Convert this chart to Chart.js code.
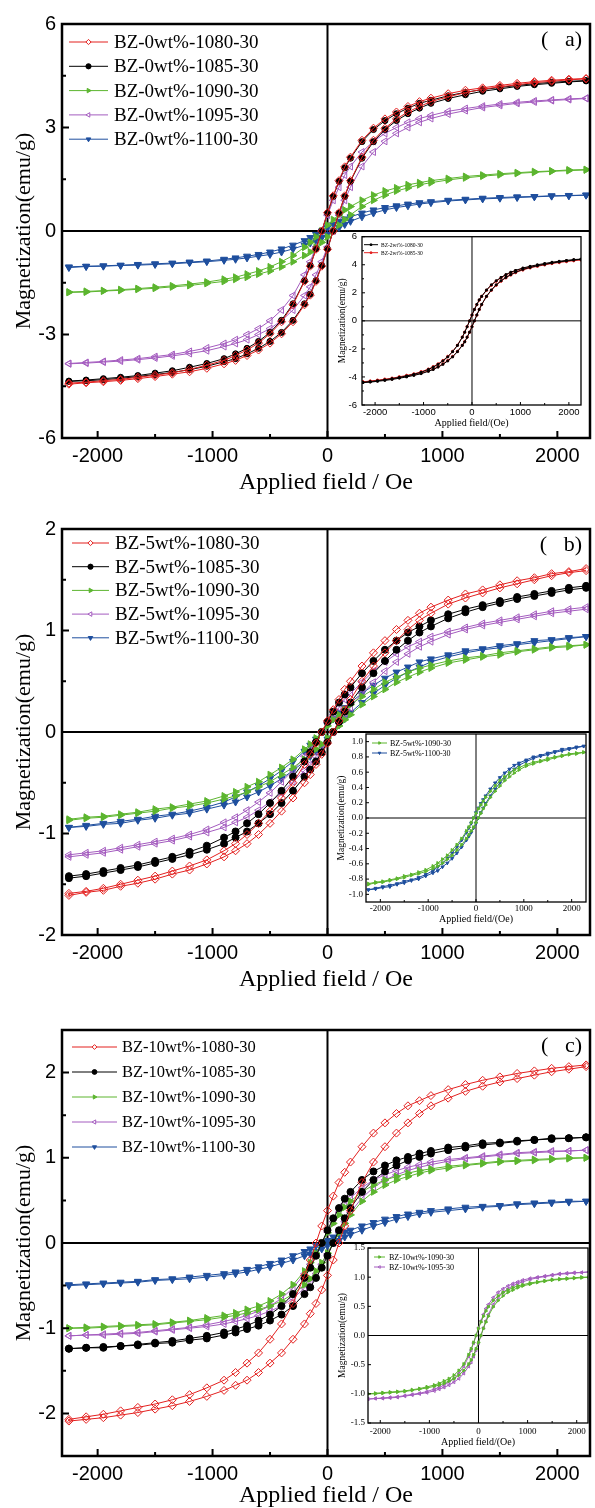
<!DOCTYPE html>
<html>
<head>
<meta charset="utf-8">
<script src="https://cdn.jsdelivr.net/npm/chart.js@4.4.1/dist/chart.umd.min.js"></script>
<style>
html, body { margin: 0; padding: 0; background: #fff; overflow: hidden; }
#fig { position: relative; width: 595px; height: 1508px; overflow: hidden; background: #fff; }
#fig canvas { position: absolute; }
</style>
</head>
<body>
<div id="fig">
  <canvas id="mainA" width="595" height="508" style="left:0;top:0"></canvas>
  <canvas id="mainB" width="595" height="497" style="left:0;top:508px"></canvas>
  <canvas id="mainC" width="595" height="521" style="left:0;top:1005px"></canvas>
  <canvas id="insetA" width="267" height="206" style="left:328px;top:226px"></canvas>
  <canvas id="insetB" width="265" height="202" style="left:330px;top:724px"></canvas>
  <canvas id="insetC" width="263" height="210" style="left:332px;top:1238px"></canvas>
</div>
<script>
// applied field (Oe) where each branch was read, from +H max down to -H max
const fieldOe = [2250, 2100, 1950, 1800, 1650, 1500, 1350, 1200, 1050,
  900, 800, 700, 600, 500, 400, 300, 200,
  150, 100, 50, 0, -50, -100, -150,
  -200, -300, -400, -500, -600, -700, -800, -900,
  -1050, -1200, -1350, -1500, -1650, -1800, -1950, -2100, -2250];

// (a) BZ-0wt%  -- "Down" = branch swept from +H to -H, "Up" = branch swept back
const a1080Down = [4.42, 4.40, 4.37, 4.33, 4.28, 4.22, 4.15, 4.08, 3.98, 3.85, 3.75, 3.61, 3.45, 3.25, 2.98, 2.63, 2.14, 1.86, 1.46, 1.02, 0.53, 0, -0.53, -1.02, -1.46, -2.14, -2.63, -2.98, -3.25, -3.45, -3.61, -3.75, -3.89, -4.01, -4.11, -4.18, -4.24, -4.30, -4.34, -4.38, -4.41];
const a1080Up = [4.41, 4.38, 4.34, 4.30, 4.24, 4.18, 4.11, 4.01, 3.89, 3.75, 3.61, 3.45, 3.25, 2.98, 2.63, 2.14, 1.46, 1.02, 0.53, 0, -0.53, -1.02, -1.46, -1.86, -2.14, -2.63, -2.98, -3.25, -3.45, -3.61, -3.75, -3.85, -3.98, -4.08, -4.15, -4.22, -4.28, -4.33, -4.37, -4.40, -4.44];
const a1085Down = [4.36, 4.34, 4.31, 4.27, 4.22, 4.16, 4.10, 4.02, 3.92, 3.79, 3.70, 3.56, 3.40, 3.20, 2.94, 2.59, 2.11, 1.83, 1.44, 1.00, 0.52, 0, -0.52, -1.00, -1.44, -2.11, -2.59, -2.94, -3.20, -3.40, -3.56, -3.70, -3.84, -3.95, -4.05, -4.12, -4.19, -4.24, -4.28, -4.32, -4.35];
const a1085Up = [4.35, 4.32, 4.28, 4.24, 4.19, 4.12, 4.05, 3.95, 3.84, 3.70, 3.56, 3.40, 3.20, 2.94, 2.59, 2.11, 1.44, 1.00, 0.52, 0, -0.52, -1.00, -1.44, -1.83, -2.11, -2.59, -2.94, -3.20, -3.40, -3.56, -3.70, -3.79, -3.92, -4.02, -4.10, -4.16, -4.22, -4.27, -4.31, -4.34, -4.36];
const a1090Down = [1.78, 1.77, 1.74, 1.72, 1.69, 1.66, 1.62, 1.58, 1.52, 1.46, 1.40, 1.34, 1.25, 1.16, 1.04, 0.89, 0.71, 0.61, 0.47, 0.33, 0.17, 0, -0.17, -0.33, -0.47, -0.71, -0.89, -1.04, -1.16, -1.25, -1.34, -1.40, -1.48, -1.54, -1.59, -1.63, -1.67, -1.70, -1.73, -1.75, -1.77];
const a1090Up = [1.77, 1.75, 1.73, 1.70, 1.67, 1.63, 1.59, 1.54, 1.48, 1.40, 1.34, 1.25, 1.16, 1.04, 0.89, 0.71, 0.47, 0.33, 0.17, 0, -0.17, -0.33, -0.47, -0.61, -0.71, -0.89, -1.04, -1.16, -1.25, -1.34, -1.40, -1.46, -1.52, -1.58, -1.62, -1.66, -1.69, -1.72, -1.74, -1.77, -1.78];
const a1095Down = [3.85, 3.83, 3.80, 3.77, 3.73, 3.68, 3.62, 3.55, 3.47, 3.35, 3.26, 3.15, 3.00, 2.83, 2.60, 2.29, 1.87, 1.62, 1.27, 0.89, 0.46, 0, -0.46, -0.89, -1.27, -1.87, -2.29, -2.60, -2.83, -3.00, -3.15, -3.26, -3.39, -3.49, -3.58, -3.64, -3.70, -3.74, -3.78, -3.81, -3.84];
const a1095Up = [3.84, 3.81, 3.78, 3.74, 3.70, 3.64, 3.58, 3.49, 3.39, 3.26, 3.15, 3.00, 2.83, 2.60, 2.29, 1.87, 1.27, 0.89, 0.46, 0, -0.46, -0.89, -1.27, -1.62, -1.87, -2.29, -2.60, -2.83, -3.00, -3.15, -3.26, -3.35, -3.47, -3.55, -3.62, -3.68, -3.73, -3.77, -3.80, -3.83, -3.85];
const a1100Down = [1.04, 1.03, 1.02, 1.00, 0.99, 0.97, 0.95, 0.92, 0.89, 0.85, 0.82, 0.78, 0.73, 0.68, 0.61, 0.52, 0.41, 0.35, 0.28, 0.19, 0.10, 0, -0.10, -0.19, -0.28, -0.41, -0.52, -0.61, -0.68, -0.73, -0.78, -0.82, -0.87, -0.90, -0.93, -0.95, -0.97, -0.99, -1.01, -1.02, -1.04];
const a1100Up = [1.04, 1.02, 1.01, 0.99, 0.97, 0.95, 0.93, 0.90, 0.87, 0.82, 0.78, 0.73, 0.68, 0.61, 0.52, 0.41, 0.28, 0.19, 0.10, 0, -0.10, -0.19, -0.28, -0.35, -0.41, -0.52, -0.61, -0.68, -0.73, -0.78, -0.82, -0.85, -0.89, -0.92, -0.95, -0.97, -0.99, -1.00, -1.02, -1.03, -1.06];

// (a) inset, BZ-2wt%
const i1080Down = [4.40, 4.37, 4.31, 4.25, 4.18, 4.09, 4.00, 3.89, 3.77, 3.60, 3.47, 3.30, 3.10, 2.86, 2.57, 2.20, 1.75, 1.50, 1.17, 0.81, 0.42, 0, -0.42, -0.81, -1.17, -1.75, -2.20, -2.57, -2.86, -3.10, -3.30, -3.47, -3.67, -3.81, -3.93, -4.03, -4.12, -4.20, -4.27, -4.33, -4.39];
const i1080Up = [4.39, 4.33, 4.27, 4.20, 4.12, 4.03, 3.93, 3.81, 3.67, 3.47, 3.30, 3.10, 2.86, 2.57, 2.20, 1.75, 1.17, 0.81, 0.42, 0, -0.42, -0.81, -1.17, -1.50, -1.75, -2.20, -2.57, -2.86, -3.10, -3.30, -3.47, -3.60, -3.77, -3.89, -4.00, -4.09, -4.18, -4.25, -4.31, -4.37, -4.40];
const i1085Down = [4.36, 4.33, 4.27, 4.21, 4.14, 4.05, 3.96, 3.86, 3.73, 3.57, 3.44, 3.27, 3.07, 2.83, 2.54, 2.18, 1.74, 1.48, 1.16, 0.81, 0.41, 0, -0.41, -0.81, -1.16, -1.74, -2.18, -2.54, -2.83, -3.07, -3.27, -3.44, -3.63, -3.78, -3.89, -3.99, -4.09, -4.16, -4.23, -4.29, -4.35];
const i1085Up = [4.35, 4.29, 4.23, 4.16, 4.09, 3.99, 3.89, 3.78, 3.63, 3.44, 3.27, 3.07, 2.83, 2.54, 2.18, 1.74, 1.16, 0.81, 0.41, 0, -0.41, -0.81, -1.16, -1.48, -1.74, -2.18, -2.54, -2.83, -3.07, -3.27, -3.44, -3.57, -3.73, -3.86, -3.96, -4.05, -4.14, -4.21, -4.27, -4.33, -4.36];

// (b) BZ-5wt%
const b1080Down = [1.61, 1.58, 1.56, 1.52, 1.49, 1.45, 1.40, 1.36, 1.30, 1.23, 1.17, 1.10, 1.01, 0.90, 0.78, 0.65, 0.50, 0.42, 0.32, 0.22, 0.11, 0, -0.11, -0.22, -0.32, -0.50, -0.65, -0.78, -0.90, -1.01, -1.10, -1.17, -1.26, -1.32, -1.37, -1.42, -1.46, -1.50, -1.54, -1.57, -1.59];
const b1080Up = [1.59, 1.57, 1.54, 1.50, 1.46, 1.42, 1.37, 1.32, 1.26, 1.17, 1.10, 1.01, 0.90, 0.78, 0.65, 0.50, 0.32, 0.22, 0.11, 0, -0.11, -0.22, -0.32, -0.42, -0.50, -0.65, -0.78, -0.90, -1.01, -1.10, -1.17, -1.23, -1.30, -1.36, -1.40, -1.45, -1.49, -1.52, -1.56, -1.58, -1.61];
const b1085Down = [1.44, 1.42, 1.39, 1.36, 1.33, 1.29, 1.25, 1.21, 1.16, 1.10, 1.04, 0.98, 0.90, 0.81, 0.70, 0.58, 0.44, 0.37, 0.29, 0.20, 0.10, 0, -0.10, -0.20, -0.29, -0.44, -0.58, -0.70, -0.81, -0.90, -0.98, -1.04, -1.12, -1.18, -1.23, -1.27, -1.31, -1.34, -1.37, -1.40, -1.42];
const b1085Up = [1.42, 1.40, 1.37, 1.34, 1.31, 1.27, 1.23, 1.18, 1.12, 1.04, 0.98, 0.90, 0.81, 0.70, 0.58, 0.44, 0.29, 0.20, 0.10, 0, -0.10, -0.20, -0.29, -0.37, -0.44, -0.58, -0.70, -0.81, -0.90, -0.98, -1.04, -1.10, -1.16, -1.21, -1.25, -1.29, -1.33, -1.36, -1.39, -1.42, -1.44];
const b1090Down = [0.86, 0.85, 0.84, 0.82, 0.80, 0.78, 0.75, 0.73, 0.70, 0.66, 0.63, 0.59, 0.54, 0.49, 0.42, 0.35, 0.27, 0.22, 0.17, 0.12, 0.06, 0, -0.06, -0.12, -0.17, -0.27, -0.35, -0.42, -0.49, -0.54, -0.59, -0.63, -0.68, -0.71, -0.74, -0.76, -0.79, -0.81, -0.83, -0.84, -0.86];
const b1090Up = [0.86, 0.84, 0.83, 0.81, 0.79, 0.76, 0.74, 0.71, 0.68, 0.63, 0.59, 0.54, 0.49, 0.42, 0.35, 0.27, 0.17, 0.12, 0.06, 0, -0.06, -0.12, -0.17, -0.22, -0.27, -0.35, -0.42, -0.49, -0.54, -0.59, -0.63, -0.66, -0.70, -0.73, -0.75, -0.78, -0.80, -0.82, -0.84, -0.85, -0.87];
const b1095Down = [1.23, 1.21, 1.19, 1.16, 1.13, 1.10, 1.07, 1.03, 0.99, 0.94, 0.89, 0.84, 0.77, 0.69, 0.60, 0.49, 0.38, 0.32, 0.24, 0.17, 0.09, 0, -0.09, -0.17, -0.24, -0.38, -0.49, -0.60, -0.69, -0.77, -0.84, -0.89, -0.96, -1.01, -1.05, -1.08, -1.11, -1.14, -1.17, -1.19, -1.21];
const b1095Up = [1.21, 1.19, 1.17, 1.14, 1.11, 1.08, 1.05, 1.01, 0.96, 0.89, 0.84, 0.77, 0.69, 0.60, 0.49, 0.38, 0.24, 0.17, 0.09, 0, -0.09, -0.17, -0.24, -0.32, -0.38, -0.49, -0.60, -0.69, -0.77, -0.84, -0.89, -0.94, -0.99, -1.03, -1.07, -1.10, -1.13, -1.16, -1.19, -1.21, -1.23];
const b1100Down = [0.94, 0.93, 0.91, 0.90, 0.87, 0.85, 0.82, 0.80, 0.76, 0.72, 0.69, 0.64, 0.59, 0.53, 0.46, 0.38, 0.29, 0.24, 0.19, 0.13, 0.07, 0, -0.07, -0.13, -0.19, -0.29, -0.38, -0.46, -0.53, -0.59, -0.64, -0.69, -0.74, -0.78, -0.81, -0.83, -0.86, -0.88, -0.90, -0.92, -0.94];
const b1100Up = [0.94, 0.92, 0.90, 0.88, 0.86, 0.83, 0.81, 0.78, 0.74, 0.69, 0.64, 0.59, 0.53, 0.46, 0.38, 0.29, 0.19, 0.13, 0.07, 0, -0.07, -0.13, -0.19, -0.24, -0.29, -0.38, -0.46, -0.53, -0.59, -0.64, -0.69, -0.72, -0.76, -0.80, -0.82, -0.85, -0.87, -0.90, -0.91, -0.93, -0.94];

// (c) BZ-10wt%
const c1080Down = [2.09, 2.07, 2.05, 2.02, 1.99, 1.95, 1.91, 1.86, 1.80, 1.73, 1.67, 1.61, 1.52, 1.41, 1.29, 1.13, 0.95, 0.83, 0.71, 0.55, 0.38, 0.20, 0, -0.20, -0.38, -0.71, -0.95, -1.13, -1.29, -1.41, -1.52, -1.61, -1.70, -1.78, -1.84, -1.89, -1.93, -1.97, -2.01, -2.04, -2.07];
const c1080Up = [2.07, 2.04, 2.01, 1.97, 1.93, 1.89, 1.84, 1.78, 1.70, 1.61, 1.52, 1.41, 1.29, 1.13, 0.95, 0.71, 0.38, 0.20, 0, -0.20, -0.38, -0.55, -0.71, -0.83, -0.95, -1.13, -1.29, -1.41, -1.52, -1.61, -1.67, -1.73, -1.80, -1.86, -1.91, -1.95, -1.99, -2.02, -2.05, -2.07, -2.09];
const c1085Down = [1.24, 1.23, 1.23, 1.21, 1.20, 1.18, 1.17, 1.14, 1.12, 1.08, 1.05, 1.01, 0.97, 0.91, 0.84, 0.74, 0.60, 0.52, 0.41, 0.29, 0.15, 0, -0.15, -0.29, -0.41, -0.60, -0.74, -0.84, -0.91, -0.97, -1.01, -1.05, -1.09, -1.12, -1.15, -1.17, -1.19, -1.21, -1.22, -1.23, -1.24];
const c1085Up = [1.24, 1.23, 1.22, 1.21, 1.19, 1.17, 1.15, 1.12, 1.09, 1.05, 1.01, 0.97, 0.91, 0.84, 0.74, 0.60, 0.41, 0.29, 0.15, 0, -0.15, -0.29, -0.41, -0.52, -0.60, -0.74, -0.84, -0.91, -0.97, -1.01, -1.05, -1.08, -1.12, -1.14, -1.17, -1.18, -1.20, -1.21, -1.23, -1.23, -1.24];
const c1090Down = [1.00, 1.00, 0.99, 0.98, 0.97, 0.96, 0.94, 0.92, 0.90, 0.87, 0.85, 0.82, 0.78, 0.74, 0.68, 0.60, 0.49, 0.42, 0.33, 0.23, 0.12, 0, -0.12, -0.23, -0.33, -0.49, -0.60, -0.68, -0.74, -0.78, -0.82, -0.85, -0.88, -0.91, -0.93, -0.95, -0.96, -0.97, -0.98, -0.99, -1.00];
const c1090Up = [1.00, 0.99, 0.98, 0.97, 0.96, 0.95, 0.93, 0.91, 0.88, 0.85, 0.82, 0.78, 0.74, 0.68, 0.60, 0.49, 0.33, 0.23, 0.12, 0, -0.12, -0.23, -0.33, -0.42, -0.49, -0.60, -0.68, -0.74, -0.78, -0.82, -0.85, -0.87, -0.90, -0.92, -0.94, -0.96, -0.97, -0.98, -0.99, -1.00, -1.00];
const c1095Down = [1.09, 1.08, 1.08, 1.07, 1.06, 1.04, 1.02, 1.00, 0.98, 0.95, 0.92, 0.89, 0.85, 0.80, 0.74, 0.65, 0.53, 0.46, 0.36, 0.25, 0.13, 0, -0.13, -0.25, -0.36, -0.53, -0.65, -0.74, -0.80, -0.85, -0.89, -0.92, -0.96, -0.99, -1.01, -1.03, -1.05, -1.06, -1.07, -1.08, -1.09];
const c1095Up = [1.09, 1.08, 1.07, 1.06, 1.05, 1.03, 1.01, 0.99, 0.96, 0.92, 0.89, 0.85, 0.80, 0.74, 0.65, 0.53, 0.36, 0.25, 0.13, 0, -0.13, -0.25, -0.36, -0.46, -0.53, -0.65, -0.74, -0.80, -0.85, -0.89, -0.92, -0.95, -0.98, -1.00, -1.02, -1.04, -1.06, -1.07, -1.08, -1.08, -1.09];
const c1100Down = [0.49, 0.49, 0.48, 0.47, 0.46, 0.44, 0.43, 0.42, 0.40, 0.38, 0.36, 0.34, 0.31, 0.28, 0.24, 0.20, 0.15, 0.13, 0.10, 0.07, 0.03, 0, -0.03, -0.07, -0.10, -0.15, -0.20, -0.24, -0.28, -0.31, -0.34, -0.36, -0.38, -0.40, -0.42, -0.43, -0.45, -0.46, -0.47, -0.48, -0.49];
const c1100Up = [0.49, 0.48, 0.47, 0.46, 0.45, 0.43, 0.42, 0.40, 0.38, 0.36, 0.34, 0.31, 0.28, 0.24, 0.20, 0.15, 0.10, 0.07, 0.03, 0, -0.03, -0.07, -0.10, -0.13, -0.15, -0.20, -0.24, -0.28, -0.31, -0.34, -0.36, -0.38, -0.40, -0.42, -0.43, -0.44, -0.46, -0.47, -0.48, -0.49, -0.50];

// tick values
const xMajor = [-2000, -1000, 0, 1000, 2000];
const xMinor = [-1500, -500, 500, 1500];
const yMajorA = [-6, -3, 0, 3, 6];
const yMinorA = [-4.5, -1.5, 1.5, 4.5];
const yMajorBC = [-2, -1, 0, 1, 2];
const yMinorBC = [-1.5, -0.5, 0.5, 1.5];
const yMajorInA = [-6, -4, -2, 0, 2, 4, 6];
const yMinorInA = [-5, -3, -1, 1, 3, 5];
const yMajorInB = [-1, -0.8, -0.6, -0.4, -0.2, 0, 0.2, 0.4, 0.6, 0.8, 1];
const yMajorInC = [-1.5, -1, -0.5, 0, 0.5, 1, 1.5];

const looks = {
  '1080': {color: '#e3201f', style: 'rectRot', rot: 0, open: true},
  '1085': {color: '#000000', style: 'circle', rot: 0, open: false},
  '1090': {color: '#5cb52f', style: 'triangle', rot: 90, open: false},
  '1095': {color: '#a45cbf', style: 'triangle', rot: -90, open: true},
  '1100': {color: '#1f4f9e', style: 'triangle', rot: 180, open: false}
};

function loop(down, up) {
  let pts = down.map((m, i) => ({x: fieldOe[i], y: m}));
  for (let i = up.length - 1; i >= 0; i--) pts.push({x: fieldOe[i], y: up[i]});
  return pts;
}

function ds(label, down, up, look, r, lw) {
  return {
    label: label,
    data: loop(down, up),
    showLine: true,
    borderColor: look.color,
    borderWidth: lw,
    tension: 0,
    pointStyle: look.style,
    pointRotation: look.rot,
    pointRadius: r,
    pointBorderWidth: 1,
    pointBorderColor: look.color,
    pointBackgroundColor: look.open ? 'rgba(255,255,255,0)' : look.color
  };
}

function marker(ctx, style, rot, r, x, y) {
  ctx.save();
  ctx.translate(x, y);
  ctx.rotate(rot * Math.PI / 180);
  ctx.beginPath();
  if (style === 'circle') {
    ctx.arc(0, 0, r, 0, Math.PI * 2);
  } else if (style === 'rectRot') {
    ctx.moveTo(0, -r); ctx.lineTo(r, 0); ctx.lineTo(0, r); ctx.lineTo(-r, 0); ctx.closePath();
  } else if (style === 'rect') {
    ctx.rect(-r * 0.8, -r * 0.8, r * 1.6, r * 1.6);
  } else {
    ctx.moveTo(0, -r); ctx.lineTo(r * 0.866, r * 0.5); ctx.lineTo(-r * 0.866, r * 0.5); ctx.closePath();
  }
  ctx.fill();
  ctx.stroke();
  ctx.restore();
}

// frame, zero lines, inward ticks, legend and panel tag
const deco = {
  id: 'deco',
  beforeDatasetsDraw(chart, args, o) {
    const {ctx, chartArea: a, scales} = chart;
    ctx.save();
    if (o.white) {
      ctx.fillStyle = '#fff';
      ctx.fillRect(a.left, a.top, a.right - a.left, a.bottom - a.top);
    }
    ctx.strokeStyle = '#000';
    ctx.lineWidth = o.zeroW;
    const x0 = scales.x.getPixelForValue(0);
    const y0 = scales.y.getPixelForValue(0);
    ctx.beginPath();
    ctx.moveTo(x0, a.top); ctx.lineTo(x0, a.bottom);
    ctx.moveTo(a.left, y0); ctx.lineTo(a.right, y0);
    ctx.stroke();
    ctx.restore();
  },
  afterDatasetsDraw(chart, args, o) {
    const {ctx, chartArea: a, scales} = chart;
    ctx.save();
    ctx.strokeStyle = '#000';
    ctx.lineWidth = o.tickW;
    ctx.beginPath();
    o.xTicks.forEach(v => { const p = scales.x.getPixelForValue(v); ctx.moveTo(p, a.bottom); ctx.lineTo(p, a.bottom - o.tickMaj); });
    o.xMinor.forEach(v => { const p = scales.x.getPixelForValue(v); ctx.moveTo(p, a.bottom); ctx.lineTo(p, a.bottom - o.tickMin); });
    o.yTicks.forEach(v => { const p = scales.y.getPixelForValue(v); ctx.moveTo(a.left, p); ctx.lineTo(a.left + o.tickMaj, p); });
    o.yMinor.forEach(v => { const p = scales.y.getPixelForValue(v); ctx.moveTo(a.left, p); ctx.lineTo(a.left + o.tickMin, p); });
    ctx.stroke();
    ctx.lineWidth = o.frameW;
    ctx.strokeRect(a.left, a.top, a.right - a.left, a.bottom - a.top);

    const lg = o.legend;
    ctx.font = lg.font;
    ctx.textBaseline = 'middle';
    ctx.textAlign = 'left';
    chart.data.datasets.forEach((d, i) => {
      const yy = a.top + lg.y0 + i * lg.dy;
      ctx.strokeStyle = d.borderColor;
      ctx.lineWidth = 1;
      ctx.beginPath();
      ctx.moveTo(a.left + lg.x1, yy);
      ctx.lineTo(a.left + lg.x2, yy);
      ctx.stroke();
      ctx.fillStyle = d.pointBackgroundColor === 'rgba(255,255,255,0)' ? '#fff' : d.pointBackgroundColor;
      marker(ctx, d.pointStyle, d.pointRotation, lg.r, a.left + (lg.x1 + lg.x2) / 2, yy);
      ctx.fillStyle = '#000';
      ctx.fillText(d.label, a.left + lg.tx, yy + 1);
    });
    if (o.tag) {
      ctx.font = '22px "Liberation Serif"';
      ctx.textAlign = 'right';
      ctx.fillStyle = '#000';
      ctx.fillText(o.tag, a.right - 8, a.top + 16);
    }
    ctx.restore();
  }
};

function makeChart(id, datasets, o) {
  return new Chart(document.getElementById(id), {
    type: 'scatter',
    data: {datasets: datasets},
    plugins: [deco],
    options: {
      responsive: false,
      animation: false,
      devicePixelRatio: 1,
      events: [],
      layout: {padding: o.pad},
      plugins: {legend: {display: false}, tooltip: {enabled: false}, deco: o.deco},
      scales: {
        x: {
          type: 'linear', min: o.xMin, max: o.xMax,
          grid: {display: false, drawTicks: false}, border: {display: false},
          afterBuildTicks: s => { s.ticks = o.deco.xTicks.map(v => ({value: v})); },
          afterFit: s => { s.height = o.xH; },
          ticks: {autoSkip: false, maxRotation: 0, padding: o.xPad, color: '#000', font: o.tickFont,
                  callback: v => String(v)},
          title: {display: true, text: o.xTitle, color: '#000', font: o.xTitleFont,
                  padding: {top: 0, bottom: o.xTitlePad}}
        },
        y: {
          type: 'linear', min: o.yMin, max: o.yMax,
          grid: {display: false, drawTicks: false}, border: {display: false},
          afterBuildTicks: s => { s.ticks = o.deco.yTicks.map(v => ({value: v})); },
          afterFit: s => { s.width = o.yW; },
          ticks: {autoSkip: false, padding: o.yPad, color: '#000', font: o.tickFont, callback: o.yFmt},
          title: {display: true, text: 'Magnetization(emu/g)', color: '#000', font: o.yTitleFont,
                  padding: {top: o.yTitlePad, bottom: 0}}
        }
      }
    }
  });
}

const mainTick = {family: 'Liberation Sans', size: 20};
const mainLegend = {x1: 7, x2: 46, tx: 52, y0: 18, dy: 24.3, font: '19px "Liberation Serif"', r: 2.6};
function mainOpts(yMin, yMax, yTicks, yMinor, padTop, legend, tag, titlePad) {
  return {
    pad: {top: padTop, left: 0, right: 0, bottom: 0},
    xMin: -2310, xMax: 2284, yMin: yMin, yMax: yMax,
    xH: 70, yW: 62, xPad: 6, yPad: 6,
    tickFont: mainTick, yFmt: v => String(v),
    xTitle: 'Applied field / Oe', xTitleFont: {family: 'Liberation Serif', size: 24}, xTitlePad: titlePad,
    yTitleFont: {family: 'Liberation Serif', size: 22}, yTitlePad: 11,
    deco: {white: false, zeroW: 2, frameW: 2.5, tickW: 2, tickMaj: 7, tickMin: 4,
           xTicks: xMajor, xMinor: xMinor, yTicks: yTicks, yMinor: yMinor, legend: legend, tag: tag}
  };
}

makeChart('mainA', [
  ds('BZ-0wt%-1080-30', a1080Down, a1080Up, looks['1080'], 4, 1),
  ds('BZ-0wt%-1085-30', a1085Down, a1085Up, looks['1085'], 3, 1),
  ds('BZ-0wt%-1090-30', a1090Down, a1090Up, looks['1090'], 4, 1),
  ds('BZ-0wt%-1095-30', a1095Down, a1095Up, looks['1095'], 4, 1),
  ds('BZ-0wt%-1100-30', a1100Down, a1100Up, looks['1100'], 4, 1)
], mainOpts(-6, 6, yMajorA, yMinorA, 24, mainLegend, '(\u00a0\u00a0 a)', 11));

makeChart('mainB', [
  ds('BZ-5wt%-1080-30', b1080Down, b1080Up, looks['1080'], 4, 1),
  ds('BZ-5wt%-1085-30', b1085Down, b1085Up, looks['1085'], 3.5, 1),
  ds('BZ-5wt%-1090-30', b1090Down, b1090Up, looks['1090'], 4, 1),
  ds('BZ-5wt%-1095-30', b1095Down, b1095Up, looks['1095'], 4, 1),
  ds('BZ-5wt%-1100-30', b1100Down, b1100Up, looks['1100'], 4, 1)
], mainOpts(-2, 2, yMajorBC, yMinorBC, 21,
  {x1: 10, x2: 47, tx: 53, y0: 14, dy: 23.7, font: '19px "Liberation Serif"', r: 2.6}, '(\u00a0\u00a0 b)', 11));

makeChart('mainC', [
  ds('BZ-10wt%-1080-30', c1080Down, c1080Up, looks['1080'], 4, 1),
  ds('BZ-10wt%-1085-30', c1085Down, c1085Up, looks['1085'], 3.5, 1),
  ds('BZ-10wt%-1090-30', c1090Down, c1090Up, looks['1090'], 4, 1),
  ds('BZ-10wt%-1095-30', c1095Down, c1095Up, looks['1095'], 4, 1),
  ds('BZ-10wt%-1100-30', c1100Down, c1100Up, looks['1100'], 4, 1)
], mainOpts(-2.5, 2.5, yMajorBC, yMinorBC, 25,
  {x1: 10, x2: 55, tx: 60, y0: 17, dy: 25, font: '16.5px "Liberation Serif"', r: 2.4}, '(\u00a0\u00a0 c)', 16));

function insetOpts(p) {
  return {
    pad: {top: p.padTop, left: 0, right: p.padRight, bottom: 0},
    xMin: p.xMin, xMax: p.xMax, yMin: p.yMin, yMax: p.yMax,
    xH: p.xH, yW: p.yW, xPad: p.xPad, yPad: p.yPad,
    tickFont: p.tickFont, yFmt: p.yFmt,
    xTitle: 'Applied field/(Oe)', xTitleFont: {family: 'Liberation Serif', size: 10}, xTitlePad: p.xTitlePad,
    yTitleFont: {family: 'Liberation Serif', size: 9.5}, yTitlePad: p.yTitlePad,
    deco: {white: true, zeroW: 1, frameW: 1.3, tickW: 1, tickMaj: 3, tickMin: 2,
           xTicks: xMajor, xMinor: xMinor, yTicks: p.yTicks, yMinor: p.yMinor, legend: p.legend, tag: null}
  };
}

makeChart('insetA', [
  ds('BZ-2wt%-1080-30', i1080Down, i1080Up, {color: '#000000', style: 'rect', rot: 0, open: false}, 1.2, 1),
  ds('BZ-2wt%-1085-30', i1085Down, i1085Up, {color: '#e3201f', style: 'circle', rot: 0, open: false}, 1.2, 1)
], insetOpts({padTop: 9, padRight: 14, xMin: -2270, xMax: 2250, yMin: -6, yMax: 6,
  xH: 27, yW: 34, xPad: 2, yPad: 5, tickFont: {family: 'Liberation Sans', size: 9.5}, yFmt: v => String(v),
  xTitlePad: 3, yTitlePad: 9, yTicks: yMajorInA, yMinor: yMinorInA,
  legend: {x1: 2, x2: 16, tx: 19, y0: 8, dy: 8, font: '5.5px "Liberation Serif"', r: 1}}));

makeChart('insetB', [
  ds('BZ-5wt%-1090-30', b1090Down, b1090Up, looks['1090'], 1.8, 1),
  ds('BZ-5wt%-1100-30', b1100Down, b1100Up, looks['1100'], 1.8, 1)
], insetOpts({padTop: 10, padRight: 9, xMin: -2300, xMax: 2300, yMin: -1.1, yMax: 1.1,
  xH: 24, yW: 36, xPad: 1, yPad: 3, tickFont: {family: 'Liberation Serif', size: 9}, yFmt: v => v.toFixed(1),
  xTitlePad: 1, yTitlePad: 6, yTicks: yMajorInB, yMinor: [],
  legend: {x1: 6, x2: 21, tx: 24, y0: 9, dy: 10, font: '8px "Liberation Serif"', r: 1.5}}));

makeChart('insetC', [
  ds('BZ-10wt%-1090-30', c1090Down, c1090Up, looks['1090'], 1.8, 1),
  ds('BZ-10wt%-1095-30', c1095Down, c1095Up, looks['1095'], 1.8, 1)
], insetOpts({padTop: 10, padRight: 7, xMin: -2250, xMax: 2230, yMin: -1.5, yMax: 1.5,
  xH: 25, yW: 36, xPad: 3, yPad: 3, tickFont: {family: 'Liberation Serif', size: 9}, yFmt: v => v.toFixed(1),
  xTitlePad: 0, yTitlePad: 4.5, yTicks: yMajorInC, yMinor: [],
  legend: {x1: 6, x2: 17, tx: 21, y0: 9, dy: 10, font: '8px "Liberation Serif"', r: 1.5}}));
</script>
</body>
</html>
